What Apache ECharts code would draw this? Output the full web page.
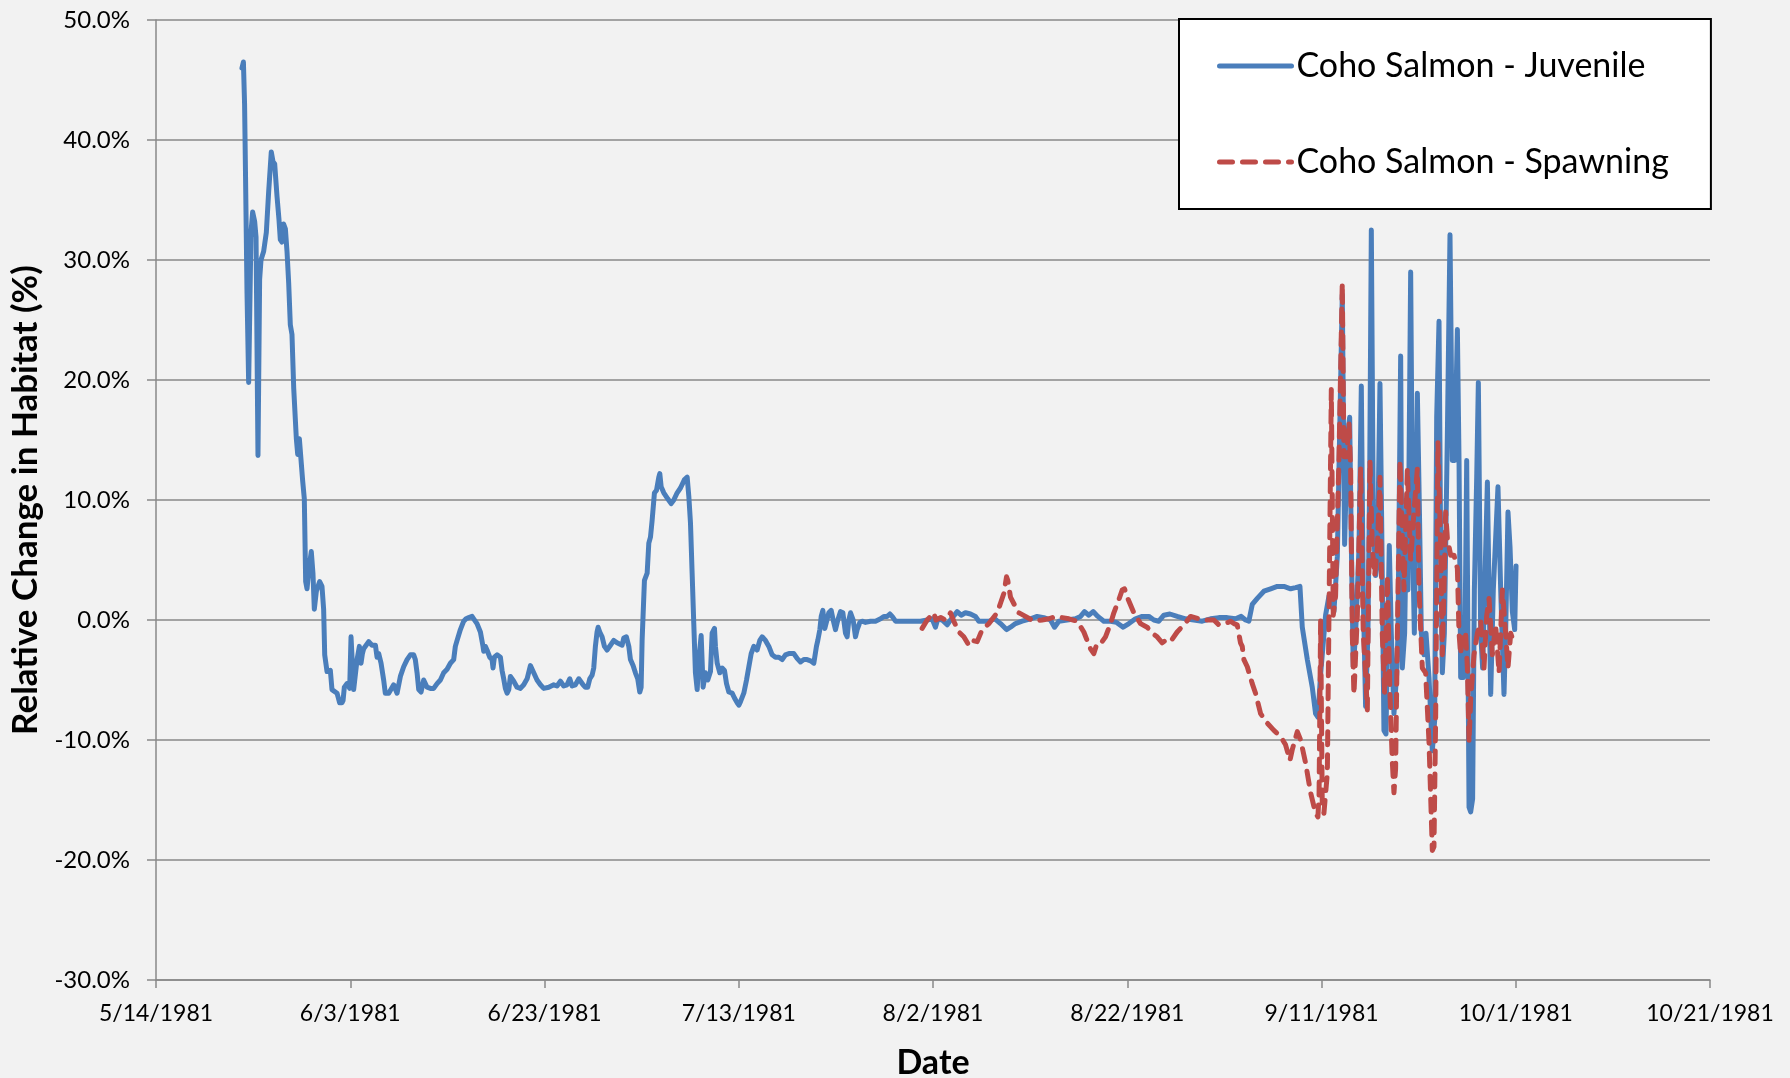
<!DOCTYPE html>
<html>
<head>
<meta charset="utf-8">
<script src="https://cdn.jsdelivr.net/npm/echarts@6/dist/echarts.min.js"></script>
<style>
  html, body { margin: 0; padding: 0; background: #F2F2F2; }
  #chart { width: 1790px; height: 1078px; }
</style>
</head>
<body>
<div id="chart"></div>
<script>
// x values are days since 5/14/1981; y values are relative change in habitat (%)
const startDate = [1981, 4, 14];
const xTickDays = [0, 20, 40, 60, 80, 100, 120, 140, 160];
const yTicks = [-30, -20, -10, 0, 10, 20, 30, 40, 50];
const seriesNames = ['Coho Salmon - Juvenile', 'Coho Salmon - Spawning'];

const juvenile = [
[8.85,46.0],[9.00,46.5],[9.12,43.0],[9.22,36.9],[9.37,27.3],[9.54,19.8],[9.78,32.3],[9.95,34.0],[10.16,33.2],[10.30,31.9],
[10.50,13.7],[10.67,28.4],[10.81,30.0],[11.08,30.7],[11.36,32.3],[11.60,35.7],[11.87,39.0],[12.05,38.2],[12.22,38.0],[12.46,35.3],
[12.66,33.4],[12.80,31.7],[12.97,31.5],[13.14,33.0],[13.32,32.6],[13.49,30.7],[13.66,28.1],[13.83,24.6],[14.00,23.8],[14.18,19.3],
[14.45,15.1],[14.59,13.8],[14.76,15.1],[14.93,15.1],[15.10,11.6],[15.27,10.1],[15.41,3.2],[15.55,2.6],[15.75,4.3],[15.99,5.7],
[16.16,3.9],[16.30,0.9],[16.51,2.4],[16.85,3.2],[17.09,2.8],[17.26,0.9],[17.37,-2.9],[17.61,-4.3],[17.95,-4.2],[18.12,-5.8],
[18.64,-6.1],[18.91,-6.9],[19.15,-6.9],[19.26,-6.7],[19.39,-5.6],[19.67,-5.3],[19.94,-5.7],[20.08,-1.4],[20.18,-1.3],[20.35,-5.8],
[20.53,-5.8],[20.70,-3.3],[20.94,-2.2],[21.11,-3.6],[21.25,-2.8],[21.38,-2.4],[21.90,-1.8],[22.24,-2.1],[22.59,-2.1],[22.76,-3.1],
[22.93,-2.8],[23.17,-3.6],[23.44,-5.0],[23.61,-6.1],[23.96,-6.1],[24.47,-5.4],[24.82,-6.1],[25.16,-4.7],[25.50,-3.9],[25.85,-3.3],
[26.19,-2.9],[26.53,-2.9],[26.70,-3.3],[26.88,-4.4],[27.05,-5.8],[27.29,-6.0],[27.56,-5.0],[27.73,-4.9],[27.91,-5.6],[28.25,-5.7],
[28.59,-5.7],[28.94,-5.3],[29.28,-5.0],[29.62,-4.4],[29.97,-4.1],[30.31,-3.6],[30.65,-3.3],[30.82,-2.2],[31.00,-1.7],[31.34,-0.8],
[31.68,-0.1],[31.92,0.1],[32.20,0.2],[32.54,0.3],[32.71,0.1],[33.05,-0.3],[33.40,-1.0],[33.67,-2.2],[33.74,-2.6],[33.91,-2.2],
[34.08,-2.5],[34.36,-3.1],[34.60,-3.3],[34.70,-4.0],[34.84,-3.1],[35.12,-2.9],[35.46,-3.1],[35.63,-4.2],[35.80,-4.9],[35.97,-5.7],
[36.15,-6.1],[36.32,-5.8],[36.49,-4.7],[36.66,-4.6],[36.83,-5.1],[37.17,-5.6],[37.52,-5.7],[37.86,-5.4],[38.21,-4.9],[38.55,-3.8],
[38.72,-3.9],[38.89,-4.4],[39.23,-5.0],[39.58,-5.4],[39.92,-5.7],[40.44,-5.6],[40.95,-5.4],[41.29,-5.5],[41.64,-5.1],[41.98,-5.5],
[42.32,-5.4],[42.60,-4.9],[42.84,-5.5],[43.18,-5.4],[43.53,-4.9],[43.70,-5.0],[43.97,-5.4],[44.21,-5.6],[44.45,-5.6],[44.66,-4.9],
[44.90,-4.6],[45.07,-4.0],[45.24,-2.2],[45.41,-1.0],[45.52,-0.6],[45.69,-1.0],[45.93,-1.4],[46.17,-2.2],[46.44,-2.5],[46.79,-2.1],
[47.13,-1.7],[47.47,-1.9],[47.99,-2.1],[48.16,-1.5],[48.43,-1.4],[48.68,-2.2],[48.85,-3.3],[49.12,-3.8],[49.36,-4.4],[49.60,-4.9],
[49.81,-6.0],[49.95,-5.6],[50.05,-1.7],[50.29,3.3],[50.57,3.9],[50.74,6.4],[50.91,6.9],[51.08,8.3],[51.32,10.6],[51.53,10.8],
[51.77,11.9],[51.87,12.2],[52.01,11.1],[52.28,10.6],[52.69,10.1],[53.04,9.7],[53.31,10.0],[53.66,10.6],[54.00,11.0],[54.41,11.7],
[54.69,11.9],[54.86,10.3],[55.03,8.1],[55.20,3.9],[55.37,-0.3],[55.54,-4.4],[55.72,-5.8],[55.89,-3.3],[56.13,-1.3],[56.33,-5.6],
[56.47,-5.7],[56.57,-4.4],[56.81,-5.0],[57.09,-4.3],[57.26,-1.1],[57.50,-0.7],[57.60,-2.2],[57.78,-3.6],[58.05,-4.4],[58.29,-4.0],
[58.53,-4.2],[58.74,-5.3],[58.98,-6.0],[59.32,-6.1],[59.56,-6.5],[59.84,-6.9],[60.01,-7.1],[60.18,-6.8],[60.52,-6.1],[60.80,-5.0],
[61.04,-3.9],[61.28,-2.8],[61.55,-2.2],[61.89,-2.5],[62.17,-1.7],[62.41,-1.4],[62.75,-1.7],[63.10,-2.2],[63.44,-2.9],[63.78,-3.1],
[64.13,-3.1],[64.47,-3.3],[64.81,-2.9],[65.16,-2.8],[65.67,-2.8],[66.01,-3.2],[66.36,-3.5],[66.70,-3.3],[67.04,-3.3],[67.39,-3.4],
[67.73,-3.6],[67.90,-3.6],[68.00,-2.2],[68.14,-1.7],[68.35,-0.8],[68.49,0.3],[68.66,0.8],[68.86,-0.7],[69.04,-0.6],[69.27,0.6],
[69.52,0.8],[69.72,0.0],[69.96,-0.8],[70.20,0.0],[70.48,0.7],[70.72,0.6],[70.99,-1.1],[71.16,-1.4],[71.33,0.0],[71.51,0.6],
[71.78,0.0],[72.02,-1.4],[72.19,-0.8],[72.47,-0.2],[72.71,-0.1],[73.05,-0.2],[73.57,-0.1],[74.08,-0.1],[74.60,0.1],[74.94,0.3],
[75.28,0.3],[75.56,0.5],[75.80,0.3],[76.14,-0.1],[76.66,-0.1],[77.17,-0.1],[78.03,-0.1],[78.71,-0.1],[79.40,0.0],[79.91,0.1],
[80.25,-0.6],[80.50,0.1],[80.94,0.0],[81.46,-0.4],[81.80,0.0],[82.49,0.7],[82.90,0.4],[83.34,0.6],[83.86,0.5],[84.37,0.3],
[84.72,-0.1],[85.75,-0.1],[86.37,0.1],[86.95,-0.3],[87.57,-0.8],[87.98,-0.6],[88.49,-0.3],[89.18,-0.1],[90.04,0.1],[90.72,0.3],
[91.41,0.2],[92.10,0.0],[92.51,-0.6],[92.96,-0.1],[93.81,0.0],[94.67,0.1],[95.19,0.3],[95.60,0.7],[96.05,0.4],[96.49,0.7],
[96.97,0.3],[97.59,-0.1],[98.28,-0.1],[98.90,-0.2],[99.58,-0.6],[100.17,-0.3],[100.85,0.1],[101.54,0.3],[102.22,0.3],[102.74,0.0],
[103.25,-0.1],[103.77,0.4],[104.39,0.5],[105.14,0.3],[106.00,0.1],[106.86,0.0],[107.72,-0.1],[108.58,0.1],[109.43,0.2],[110.29,0.2],
[111.15,0.1],[111.73,0.3],[112.18,0.0],[112.52,-0.1],[112.87,1.3],[113.39,1.8],[114.07,2.4],[114.76,2.6],[115.45,2.8],[116.13,2.8],
[116.82,2.6],[117.33,2.7],[117.78,2.8],[118.02,-0.6],[118.54,-3.3],[119.05,-5.6],[119.39,-7.8],[119.63,-8.1],[119.91,-4.5],[120.42,0.4],
[120.77,2.0],[121.28,0.7],[121.63,5.3],[122.14,27.1],[122.38,6.3],[122.66,15.2],[122.90,16.9],[123.07,6.3],[123.27,-3.9],[123.51,-1.2],
[123.86,6.0],[124.10,19.5],[124.30,2.0],[124.54,-7.2],[124.78,-1.2],[124.96,11.9],[125.13,32.5],[125.33,8.6],[125.57,3.7],[125.75,4.7],
[126.02,19.7],[126.19,8.6],[126.43,-9.2],[126.64,-9.5],[126.81,-1.2],[126.98,6.2],[127.19,-1.2],[127.46,-7.8],[127.74,-4.5],[127.87,-1.2],
[128.15,22.0],[128.32,-4.0],[128.56,-1.1],[128.77,9.7],[128.90,2.5],[129.18,29.0],[129.39,6.1],[129.56,-1.1],[129.87,18.9],[130.07,9.7],
[130.28,-1.1],[130.55,-2.9],[130.76,-1.1],[131.07,-4.8],[131.41,-10.9],[131.65,-8.4],[131.86,16.9],[132.10,24.9],[132.27,6.1],[132.44,-4.4],
[132.65,-1.1],[132.96,15.5],[133.23,32.1],[133.47,13.3],[133.71,13.3],[133.99,24.2],[134.16,13.3],[134.33,-4.8],[134.60,-4.8],[134.78,-1.1],
[134.95,13.3],[135.19,-15.6],[135.36,-16.0],[135.56,-14.9],[135.74,2.5],[135.98,11.9],[136.15,19.8],[136.39,-1.1],[136.59,-4.0],[136.80,2.5],
[137.08,11.5],[137.25,2.5],[137.42,-6.2],[137.69,2.5],[138.17,11.1],[138.45,2.5],[138.79,-6.2],[138.96,-1.1],[139.20,9.0],[139.41,6.1],
[139.65,0.7],[139.89,-0.8],[140.03,4.5]
];

const spawning = [
[78.88,-0.7],[79.40,0.0],[80.08,0.6],[80.30,0.0],[80.80,0.2],[81.30,0.0],[81.80,0.6],[82.14,-0.1],[82.66,-1.0],[83.17,-1.4],
[83.69,-2.1],[84.03,-1.7],[84.55,-1.8],[85.06,-0.8],[85.75,-0.3],[86.61,0.6],[86.95,1.4],[87.29,2.2],[87.57,3.6],[87.70,3.3],
[87.98,1.9],[88.49,1.1],[88.84,0.6],[89.52,0.3],[90.38,-0.1],[91.24,0.0],[91.93,0.1],[92.61,0.3],[93.99,0.1],[94.84,-0.1],
[95.53,-1.0],[95.87,-1.7],[96.22,-2.4],[96.56,-2.8],[96.90,-1.9],[97.42,-1.8],[97.76,-1.4],[98.28,-0.3],[98.62,0.6],[99.14,1.7],
[99.48,2.5],[99.72,2.6],[100.00,1.9],[100.68,0.6],[101.37,-0.3],[102.05,-0.6],[102.57,-1.1],[103.08,-1.4],[103.60,-1.9],[103.94,-1.7],
[104.46,-1.8],[105.14,-1.0],[105.83,-0.4],[106.52,0.3],[107.37,0.1],[108.23,0.0],[108.92,0.0],[109.43,-0.4],[110.12,-0.3],[110.64,-0.1],
[110.98,-0.3],[111.32,-0.4],[111.66,-1.9],[111.84,-2.2],[112.01,-3.3],[112.36,-3.9],[112.87,-5.3],[113.21,-6.1],[113.73,-7.8],[114.42,-8.6],
[115.10,-9.2],[115.79,-9.7],[116.30,-10.4],[116.75,-11.7],[116.99,-10.8],[117.51,-9.3],[117.85,-10.0],[118.36,-11.9],[118.88,-14.4],[119.39,-16.1],
[119.63,-16.4],[119.75,-14.5],[119.91,0.0],[120.08,-15.5],[120.25,-16.1],[120.60,-12.8],[121.01,19.2],[121.21,0.4],[121.45,2.0],[121.80,13.6],
[122.14,28.1],[122.31,13.6],[122.59,13.6],[122.83,16.5],[123.00,12.6],[123.17,-1.2],[123.34,-6.2],[123.69,0.4],[124.03,12.6],[124.30,-1.2],
[124.54,-4.5],[124.72,-7.5],[124.99,13.3],[125.23,6.0],[125.47,3.7],[125.75,6.0],[126.02,11.9],[126.26,-1.2],[126.50,-6.2],[126.78,3.7],
[127.05,-6.2],[127.29,-11.8],[127.46,-14.4],[127.63,-12.4],[127.81,-1.2],[128.08,13.3],[128.49,2.5],[128.84,12.6],[129.18,5.0],[129.52,9.0],
[129.87,12.6],[130.04,2.5],[130.38,-4.0],[130.72,-4.4],[131.07,-10.2],[131.41,-19.2],[131.58,-18.9],[131.75,-8.4],[131.99,14.8],[132.27,6.1],
[132.44,-2.9],[132.61,2.5],[132.78,9.0],[132.96,6.8],[133.30,5.4],[133.64,5.4],[133.99,4.3],[134.16,-1.1],[134.33,-2.9],[134.50,-1.1],
[134.84,-1.1],[135.02,-4.0],[135.19,-10.2],[135.36,-6.6],[135.70,-2.9],[136.05,-1.1],[136.39,-0.1],[136.73,-4.0],[137.00,0.3],[137.25,1.8],
[137.59,-2.9],[137.93,-0.4],[138.28,-4.4],[138.62,2.5],[138.96,-1.1],[139.20,-4.0],[139.48,-1.1],[139.82,-1.9],[140.10,-2.0]
];

const FONT = 'Lato, "Open Sans", sans-serif';
const AXIS_GRAY = '#898989';
const BLUE = '#4A7EBB';
const RED = '#BE4B48';
const baseMs = Date.UTC(startDate[0], startDate[1], startDate[2]);
function dayLabel(v) {
  const d = new Date(baseMs + v * 86400000);
  return (d.getUTCMonth() + 1) + '/' + d.getUTCDate() + '/' + d.getUTCFullYear();
}

const chart = echarts.init(document.getElementById('chart'), null, { renderer: 'canvas' });
chart.setOption({
  animation: false,
  backgroundColor: '#F2F2F2',
  textStyle: { fontFamily: FONT },
  grid: { left: 156, right: 80, top: 20, bottom: 98, containLabel: false, outerBoundsMode: 'none' },
  legend: {
    data: seriesNames,
    orient: 'vertical',
    left: 1179,
    top: 19,
    backgroundColor: '#FFFFFF',
    borderColor: '#000000',
    borderWidth: 2,
    borderRadius: 0,
    padding: [27, 42, 27, 38],
    itemGap: 56,
    itemWidth: 72,
    itemHeight: 14,
    itemStyle: { opacity: 0 },
    lineStyle: { width: 5, cap: 'round' },
    textStyle: { fontFamily: FONT, fontSize: 34, color: '#000', lineHeight: 40 }
  },
  xAxis: {
    type: 'value',
    min: xTickDays[0],
    max: xTickDays[xTickDays.length - 1],
    interval: xTickDays[1] - xTickDays[0],
    name: 'Date',
    nameLocation: 'middle',
    nameGap: 66,
    nameTextStyle: { fontFamily: FONT, fontSize: 34, fontWeight: 'bold', color: '#000' },
    axisLine: { onZero: false, lineStyle: { color: AXIS_GRAY, width: 1.5 } },
    axisTick: { show: true, inside: false, length: 8, lineStyle: { color: AXIS_GRAY, width: 1.5 } },
    axisLabel: { formatter: dayLabel, fontSize: 23, color: '#000', margin: 22, fontFamily: FONT, showMinLabel: true, showMaxLabel: true },
    splitLine: { show: false }
  },
  yAxis: {
    type: 'value',
    min: yTicks[0],
    max: yTicks[yTicks.length - 1],
    interval: yTicks[1] - yTicks[0],
    name: 'Relative Change in Habitat (%)',
    nameLocation: 'middle',
    nameRotate: 90,
    nameGap: 110,
    nameTextStyle: { fontFamily: FONT, fontSize: 35, fontWeight: 'bold', color: '#000' },
    axisLine: { show: true, lineStyle: { color: AXIS_GRAY, width: 1.5 } },
    axisTick: { show: true, inside: false, length: 9, lineStyle: { color: AXIS_GRAY, width: 1.5 } },
    axisLabel: { formatter: v => v.toFixed(1) + '%', fontSize: 24, color: '#000', margin: 26, fontFamily: FONT },
    splitLine: { show: true, lineStyle: { color: AXIS_GRAY, width: 1.5 } }
  },
  series: [
    {
      name: seriesNames[0],
      type: 'line',
      data: juvenile,
      symbol: 'none',
      showSymbol: false,
      smooth: false,
      lineStyle: { color: BLUE, width: 5, cap: 'round', join: 'round' },
      itemStyle: { color: BLUE },
      z: 2
    },
    {
      name: seriesNames[1],
      type: 'line',
      data: spawning,
      symbol: 'none',
      showSymbol: false,
      smooth: false,
      lineStyle: { color: RED, width: 5, type: [13, 10], cap: 'round', join: 'round' },
      itemStyle: { color: RED },
      z: 3
    }
  ]
});
</script>
</body>
</html>
